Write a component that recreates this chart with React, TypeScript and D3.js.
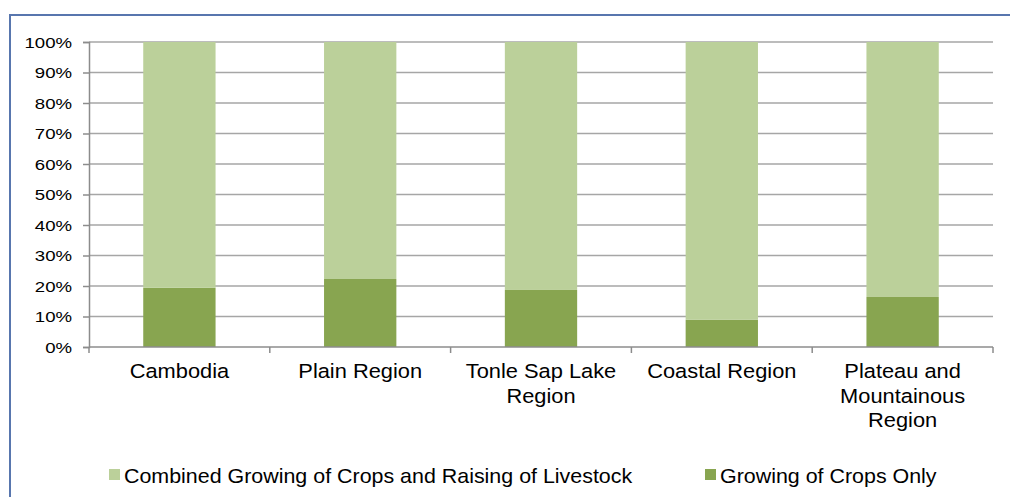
import React, { useRef, useEffect } from 'react';
import * as d3 from 'd3';

const categories = [
  ['Cambodia'],
  ['Plain Region'],
  ['Tonle Sap Lake', 'Region'],
  ['Coastal Region'],
  ['Plateau and', 'Mountainous', 'Region'],
];
const cropsOnly = [19.4, 22.3, 18.7, 8.9, 16.4];
const combined = [80.6, 77.7, 81.3, 91.1, 83.6];
const seriesNames = ['Combined Growing of Crops and Raising of Livestock', 'Growing of Crops Only'];
const yTicks = [0, 10, 20, 30, 40, 50, 60, 70, 80, 90, 100];

const LIGHT = '#bbd09a';
const DARK = '#88a550';
const FONT = 'Liberation Sans, Arial, sans-serif';

const App = () => {
  const ref = useRef(null);

  useEffect(() => {
    const svg = d3.select(ref.current);
    svg.selectAll('*').remove();

    const W = 1010;
    const H = 497;
    const left = 89;
    const right = 993;
    const top = 42;
    const bottom = 347;

    // outer frame
    svg.append('rect')
      .attr('x', 10).attr('y', 15)
      .attr('width', W + 10).attr('height', H + 10)
      .attr('fill', 'white')
      .attr('stroke', '#5876ae').attr('stroke-width', 2);

    const x = d3.scaleBand().domain(categories.map((d, i) => String(i))).range([left, right]).paddingInner(0.6).paddingOuter(0.3);
    const y = d3.scaleLinear().domain([0, 100]).range([bottom, top]);

    const g = svg.append('g');

    // gridlines
    g.selectAll('.grid')
      .data(yTicks.filter((t) => t > 0))
      .enter()
      .append('line')
      .attr('x1', left).attr('x2', right)
      .attr('y1', (d) => y(d)).attr('y2', (d) => y(d))
      .attr('stroke', '#a6a6a6').attr('stroke-width', 1.5);

    // stacked bars
    const stack = d3.stack().keys(['crops', 'combined'])(
      cropsOnly.map((v, i) => ({ i: String(i), crops: v, combined: combined[i] }))
    );
    const colors = [DARK, LIGHT];
    stack.forEach((layer, k) => {
      g.selectAll('.bar' + k)
        .data(layer)
        .enter()
        .append('rect')
        .attr('x', (d) => x(d.data.i))
        .attr('width', x.bandwidth())
        .attr('y', (d) => y(d[1]))
        .attr('height', (d) => y(d[0]) - y(d[1]))
        .attr('fill', colors[k]);
    });

    // y axis
    const ya = g.append('g').attr('transform', `translate(${left},0)`)
      .call(d3.axisLeft(y).tickValues(yTicks).tickSize(6).tickPadding(0).tickFormat((d) => d + '%'));
    ya.select('.domain').attr('stroke', '#8c8c8c').attr('stroke-width', 1.5);
    ya.selectAll('.tick line').attr('stroke', '#8c8c8c').attr('stroke-width', 1.5);
    ya.selectAll('.tick text').remove();
    yTicks.forEach((t) => {
      g.append('text')
        .attr('transform', `translate(72,${y(t) + 5.5}) scale(1.2,1)`)
        .attr('text-anchor', 'end')
        .attr('font-family', FONT).attr('font-size', 15.5).attr('fill', '#000')
        .text(t + '%');
    });

    // x axis
    const step = (right - left) / categories.length;
    const xa = g.append('g');
    xa.append('line').attr('x1', left).attr('x2', right).attr('y1', bottom).attr('y2', bottom)
      .attr('stroke', '#8c8c8c').attr('stroke-width', 1.5);
    d3.range(categories.length + 1).forEach((i) => {
      xa.append('line')
        .attr('x1', left + i * step).attr('x2', left + i * step)
        .attr('y1', bottom).attr('y2', bottom + 6)
        .attr('stroke', '#8c8c8c').attr('stroke-width', 1.5);
    });
    categories.forEach((lines, i) => {
      const cx = x(String(i)) + x.bandwidth() / 2;
      lines.forEach((ln, j) => {
        g.append('text')
          .attr('transform', `translate(${cx},${378 + j * 24.5}) scale(1.12,1)`)
          .attr('text-anchor', 'middle')
          .attr('font-family', FONT).attr('font-size', 19.5).attr('fill', '#000')
          .text(ln);
      });
    });

    // legend
    const legendX = [109, 705];
    seriesNames.forEach((name, i) => {
      g.append('rect')
        .attr('x', legendX[i]).attr('y', 469)
        .attr('width', 11).attr('height', 11)
        .attr('fill', i === 0 ? LIGHT : DARK);
      g.append('text')
        .attr('transform', `translate(${legendX[i] + 15},${482.5}) scale(1.02,1)`)
        .attr('font-family', FONT).attr('font-size', 21).attr('fill', '#000')
        .text(name);
    });
  }, []);

  return (
    <svg
      ref={ref}
      width={1010}
      height={497}
      style={{ position: 'absolute', left: 0, top: 0, display: 'block', background: 'white' }}
    />
  );
};

export default App;
